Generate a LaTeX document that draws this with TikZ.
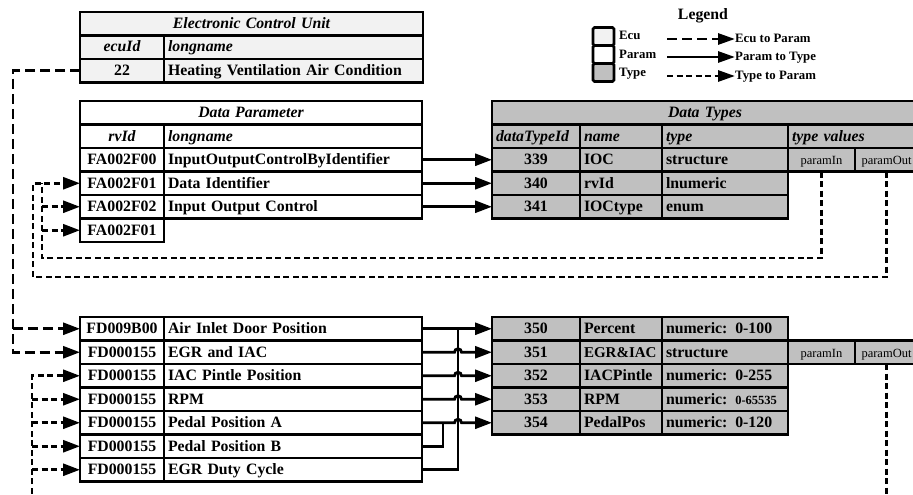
\documentclass[tikz,border=0pt]{standalone}
\usepackage{fontspec}
\setmainfont{Liberation Serif}
\usetikzlibrary{arrows.meta}

\definecolor{ecugray}{HTML}{F2F2F2}
\definecolor{typgray}{HTML}{C0C0C0}

\tikzset{
  cell/.style={draw, line width=2.8pt, inner sep=0pt, outer sep=0pt,
    text height=12pt, text depth=2.5pt,
    font=\fontsize{15.8}{18}\selectfont\bfseries},
  hd/.style={font=\fontsize{15.8}{18}\selectfont\bfseries\itshape},
  sm/.style={font=\fontsize{12.5}{14}\selectfont},
  ecu/.style={fill=ecugray},
  par/.style={fill=white},
  typ/.style={fill=typgray},
  lft/.style={align=left},
  ctr/.style={align=center},
  conn/.style={line width=2.8pt},
  bigtip/.style={-{Triangle[length=17pt,width=12pt]}},
  smalltip/.style={-{Triangle[length=17pt,width=11pt]}},
  ecudash/.style={conn, dash pattern=on 10pt off 5pt},
  typdash/.style={conn, dash pattern=on 6pt off 3.5pt},
  legbox/.style={draw, line width=2.8pt, rounded corners=1.5pt,
    minimum width=21pt, minimum height=18pt, inner sep=0pt, outer sep=0pt},
  legtxt/.style={font=\fontsize{12.8}{15}\selectfont\bfseries, inner sep=0pt},
}

% table cell: name, x1, y1, x2, y2, options, text
\newcommand\tcell[7]{%
  \pgfmathsetmacro\cellw{#4-#2}%
  \pgfmathsetmacro\cellh{#5-#3}%
  \pgfmathsetmacro\cellt{#4-#2-8}%
  \node[cell,#6,minimum width=\cellw pt,minimum height=\cellh pt,
        text width=\cellt pt] (#1) at ({(#2+#4)/2},{(#3+#5)/2}) {#7};}

\begin{document}
\begin{tikzpicture}[x=1pt,y=-1pt,line join=miter]
\useasboundingbox (0,0) rectangle (913,495);
\fill[white] (0,0) rectangle (913,495);
\clip (0,0) rectangle (913,495);

% ---------- Electronic Control Unit ----------
\tcell{ecuhd}{80}{12}{423}{35.5}{ecu,hd,ctr}{Electronic Control Unit}
\tcell{ecuidh}{80}{35.5}{164}{59}{ecu,hd,ctr}{ecuId}
\tcell{ecunmh}{164}{35.5}{423}{59}{ecu,hd,lft}{longname}
\tcell{ecuid}{80}{59}{164}{82.5}{ecu,ctr}{22}
\tcell{ecunm}{164}{59}{423}{82.5}{ecu,lft}{Heating Ventilation Air Condition}

% ---------- Data Parameter (upper) ----------
\tcell{pahd}{80}{101}{422}{124.5}{par,hd,ctr}{Data Parameter}
\tcell{paidh}{80}{124.5}{164}{148}{par,hd,ctr}{rvId}
\tcell{panmh}{164}{124.5}{422}{148}{par,hd,lft}{longname}
\tcell{pa1id}{80}{148}{164}{171.5}{par,ctr}{FA002F00}
\tcell{pa1nm}{164}{148}{422}{171.5}{par,lft}{InputOutputControlByIdentifier}
\tcell{pa2id}{80}{171.5}{164}{195}{par,ctr}{FA002F01}
\tcell{pa2nm}{164}{171.5}{422}{195}{par,lft}{Data Identifier}
\tcell{pa3id}{80}{195}{164}{218.5}{par,ctr}{FA002F02}
\tcell{pa3nm}{164}{195}{422}{218.5}{par,lft}{Input Output Control}
\tcell{pa4id}{80}{218.5}{164}{242}{par,ctr}{FA002F01}

% ---------- Data Types (upper) ----------
\tcell{tahd}{492}{101}{918}{124.5}{typ,hd,ctr}{Data Types}
\tcell{taidh}{492}{124.5}{580}{148}{typ,hd,lft}{dataTypeId}
\tcell{tanmh}{580}{124.5}{662}{148}{typ,hd,lft}{name}
\tcell{tatyh}{662}{124.5}{788}{148}{typ,hd,lft}{type}
\tcell{tavh}{788}{124.5}{918}{148}{typ,hd,lft}{type values}
\tcell{ta1id}{492}{148}{580}{171.5}{typ,ctr}{339}
\tcell{ta1nm}{580}{148}{662}{171.5}{typ,lft}{IOC}
\tcell{ta1ty}{662}{148}{788}{171.5}{typ,lft}{structure}
\tcell{ta1in}{788}{148}{855}{171.5}{typ,sm,ctr}{paramIn}
\tcell{ta1out}{855}{148}{918}{171.5}{typ,sm,ctr}{paramOut}
\tcell{ta2id}{492}{171.5}{580}{195}{typ,ctr}{340}
\tcell{ta2nm}{580}{171.5}{662}{195}{typ,lft}{rvId}
\tcell{ta2ty}{662}{171.5}{788}{195}{typ,lft}{lnumeric}
\tcell{ta3id}{492}{195}{580}{218.5}{typ,ctr}{341}
\tcell{ta3nm}{580}{195}{662}{218.5}{typ,lft}{IOCtype}
\tcell{ta3ty}{662}{195}{788}{218.5}{typ,lft}{enum}

% ---------- Data Parameter (lower) ----------
\tcell{pb1id}{80}{317}{164}{340.5}{par,ctr}{FD009B00}
\tcell{pb1nm}{164}{317}{422}{340.5}{par,lft}{Air Inlet Door Position}
\tcell{pb2id}{80}{340.5}{164}{364}{par,ctr}{FD000155}
\tcell{pb2nm}{164}{340.5}{422}{364}{par,lft}{EGR and IAC}
\tcell{pb3id}{80}{364}{164}{387.5}{par,ctr}{FD000155}
\tcell{pb3nm}{164}{364}{422}{387.5}{par,lft}{IAC Pintle Position}
\tcell{pb4id}{80}{387.5}{164}{411}{par,ctr}{FD000155}
\tcell{pb4nm}{164}{387.5}{422}{411}{par,lft}{RPM}
\tcell{pb5id}{80}{411}{164}{434.5}{par,ctr}{FD000155}
\tcell{pb5nm}{164}{411}{422}{434.5}{par,lft}{Pedal Position A}
\tcell{pb6id}{80}{434.5}{164}{458}{par,ctr}{FD000155}
\tcell{pb6nm}{164}{434.5}{422}{458}{par,lft}{Pedal Position B}
\tcell{pb7id}{80}{458}{164}{481.5}{par,ctr}{FD000155}
\tcell{pb7nm}{164}{458}{422}{481.5}{par,lft}{EGR Duty Cycle}

% ---------- Data Types (lower) ----------
\tcell{tb1id}{492}{317}{580}{340.5}{typ,ctr}{350}
\tcell{tb1nm}{580}{317}{662}{340.5}{typ,lft}{Percent}
\tcell{tb1ty}{662}{317}{788}{340.5}{typ,lft}{numeric: 0-100}
\tcell{tb2id}{492}{340.5}{580}{364}{typ,ctr}{351}
\tcell{tb2nm}{580}{340.5}{662}{364}{typ,lft}{\fontsize{15}{18}\selectfont EGR\&IAC}
\tcell{tb2ty}{662}{340.5}{788}{364}{typ,lft}{structure}
\tcell{tb2in}{788}{340.5}{855}{364}{typ,sm,ctr}{paramIn}
\tcell{tb2out}{855}{340.5}{918}{364}{typ,sm,ctr}{paramOut}
\tcell{tb3id}{492}{364}{580}{387.5}{typ,ctr}{352}
\tcell{tb3nm}{580}{364}{662}{387.5}{typ,lft}{IACPintle}
\tcell{tb3ty}{662}{364}{788}{387.5}{typ,lft}{numeric: 0-255}
\tcell{tb4id}{492}{387.5}{580}{411}{typ,ctr}{353}
\tcell{tb4nm}{580}{387.5}{662}{411}{typ,lft}{RPM}
\tcell{tb4ty}{662}{387.5}{788}{411}{typ,lft}{numeric: {\fontsize{12.5}{14}\selectfont 0-65535}}
\tcell{tb5id}{492}{411}{580}{434.5}{typ,ctr}{354}
\tcell{tb5nm}{580}{411}{662}{434.5}{typ,lft}{PedalPos}
\tcell{tb5ty}{662}{411}{788}{434.5}{typ,lft}{numeric: 0-120}

% ---------- Param to Type (solid) ----------
\draw[conn,bigtip] (pa1nm.east) -- (ta1id.west);
\draw[conn,bigtip] (pa2nm.east) -- (ta2id.west);
\draw[conn,bigtip] (pa3nm.east) -- (ta3id.west);

\coordinate (busx) at (458,0);
\coordinate (bus2x) at (443,0);
\draw[conn,bigtip] (pb1nm.east) -- (tb1id.west);
\draw[conn] (pb7nm.east) -| (busx |- pb1nm.east);
\foreach \src/\dst in {pb2nm/tb2id,pb3nm/tb3id,pb4nm/tb4id,pb5nm/tb5id}
  \draw[conn,bigtip] (\src.east) -- ([xshift=-3.5pt]busx |- \src.east)
    arc[start angle=180,end angle=0,radius=3.5pt] -- (\dst.west);
\draw[conn] (pb6nm.east) -| (bus2x |- pb5nm.east);

% ---------- Ecu to Param (long dashes) ----------
\coordinate (ecux) at (13,0);
\draw[ecudash,bigtip] (ecuid.west) -| (ecux |- pb2id.west) -- (pb2id.west);
\draw[ecudash,bigtip] (ecux |- pb1id.west) -- (pb1id.west);

% ---------- Type to Param (short dashes) ----------
\coordinate (outc) at (33,277);
\coordinate (inc) at (42,258);
\draw[typdash,bigtip] (ta1out.south) |- (outc) |- (pa2id.west);
\draw[typdash] (ta1in.south) |- (inc) -- (inc |- pa2id.west);
\draw[typdash,bigtip] (inc |- pa3id.west) -- (pa3id.west);
\draw[typdash,bigtip] (inc |- pa4id.west) -- (pa4id.west);

\coordinate (lowc) at (32,505);
\draw[typdash,bigtip] (tb2out.south) |- (lowc) |- (pb3id.west);
\foreach \dst in {pb4id,pb5id,pb6id,pb7id}
  \draw[typdash,bigtip] (lowc |- \dst.west) -- (\dst.west);

% ---------- Legend ----------
\node[font=\fontsize{15.8}{18}\selectfont\bfseries, anchor=base] (legt) at (703,20) {Legend};
\node[legbox, fill=ecugray] (lbe) at (603.5,36.5) {};
\node[legbox, fill=white] (lbp) at (603.5,54.5) {};
\node[legbox, fill=typgray] (lbt) at (603.5,72.5) {};
\node[legtxt, anchor=base west] (lbet) at (619,40) {Ecu};
\node[legtxt, anchor=base west] (lbpt) at (619,59) {Param};
\node[legtxt, anchor=base west] (lbtt) at (619,77) {Type};

\node[legtxt, anchor=west, text height=9pt, text depth=1pt] (la1t) at (735,39) {Ecu to Param};
\node[legtxt, anchor=west, text height=9pt, text depth=1pt] (la2t) at (735,57) {Param to Type};
\node[legtxt, anchor=west, text height=9pt, text depth=1pt] (la3t) at (735,76) {Type to Param};
\coordinate (la1s) at (667,39);
\coordinate (la2s) at (667,57);
\coordinate (la3s) at (667,76);
\draw[ecudash,smalltip] (la1s) -- (la1t.west);
\draw[conn,smalltip] (la2s) -- (la2t.west);
\draw[typdash,smalltip] (la3s) -- (la3t.west);
\end{tikzpicture}
\end{document}
